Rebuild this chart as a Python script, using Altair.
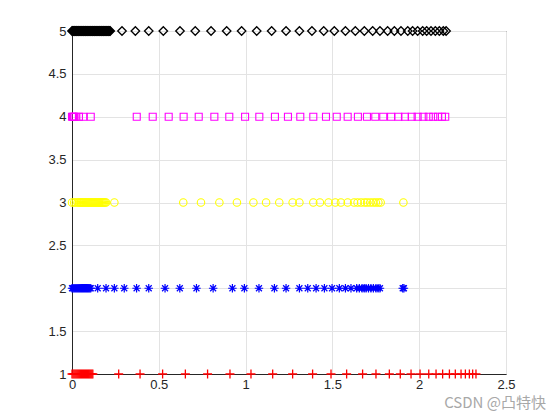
import altair as alt
import pandas as pd

# ---- data ----
red_x = [0.000, 0.006, 0.012, 0.018, 0.024, 0.030, 0.036, 0.042, 0.048, 0.054, 0.060,
         0.066, 0.072, 0.078, 0.084, 0.090, 0.096, 0.102, 0.108, 0.114, 0.120,
         0.269, 0.392, 0.522, 0.653, 0.781, 0.910, 1.031, 1.156, 1.271, 1.386,
         1.492, 1.582, 1.674, 1.751, 1.828, 1.891, 1.953, 2.005, 2.055, 2.097,
         2.135, 2.174, 2.208, 2.241, 2.266, 2.289, 2.308, 2.327]
blue_x = [0.000, 0.006, 0.012, 0.018, 0.024, 0.030, 0.036, 0.042, 0.048, 0.054, 0.060,
          0.066, 0.072, 0.078, 0.084, 0.090, 0.096, 0.102, 0.108,
          0.148, 0.196, 0.244, 0.301, 0.372, 0.442, 0.536, 0.621, 0.717, 0.813,
          0.924, 0.993, 1.077, 1.166, 1.233, 1.310, 1.358, 1.406, 1.454, 1.498,
          1.540, 1.575, 1.607, 1.640, 1.655, 1.671, 1.683, 1.694, 1.708, 1.722,
          1.736, 1.751, 1.763, 1.774, 1.905, 1.912]
yellow_x = [0.000, 0.012, 0.022, 0.032, 0.040, 0.046, 0.052, 0.058, 0.064, 0.070, 0.076,
            0.082, 0.088, 0.094, 0.100, 0.106, 0.112, 0.118, 0.124, 0.130, 0.136,
            0.142, 0.148, 0.154, 0.160, 0.166, 0.172, 0.178, 0.184, 0.190, 0.196,
            0.244,
            0.641, 0.743, 0.849, 0.950, 1.045, 1.118, 1.194, 1.271, 1.310, 1.390,
            1.428, 1.478, 1.517, 1.549, 1.588, 1.625, 1.645, 1.665, 1.685, 1.700,
            1.718, 1.735, 1.750, 1.765, 1.778, 1.909]
magenta_x = [0.000, 0.006, 0.012, 0.020, 0.040, 0.065, 0.108,
             0.373, 0.465, 0.557, 0.643, 0.730, 0.820, 0.906, 0.997, 1.079, 1.169,
             1.244, 1.315, 1.390, 1.463, 1.525, 1.588, 1.647, 1.699, 1.747, 1.793,
             1.838, 1.880, 1.918, 1.957, 1.991, 2.024, 2.055, 2.081, 2.108, 2.131, 2.150]
black_x = [0.000, 0.004, 0.008, 0.012, 0.016, 0.020, 0.024, 0.028, 0.032, 0.036, 0.040,
           0.044, 0.048, 0.052, 0.056, 0.060, 0.064, 0.068, 0.072, 0.076, 0.080,
           0.084, 0.088, 0.092, 0.096, 0.100, 0.104, 0.108, 0.112, 0.116, 0.120,
           0.124, 0.128, 0.132, 0.136, 0.140, 0.144, 0.148, 0.152, 0.156, 0.160,
           0.164, 0.168, 0.172, 0.176, 0.180, 0.184, 0.188, 0.192, 0.196, 0.200,
           0.204, 0.208, 0.212, 0.216, 0.220,
           0.288, 0.365, 0.442, 0.526, 0.622, 0.710, 0.801, 0.891, 0.977, 1.064,
           1.150, 1.233, 1.310, 1.382, 1.450, 1.511, 1.575, 1.632, 1.684, 1.732,
           1.774, 1.818, 1.857, 1.895, 1.934, 1.962, 1.991, 2.020, 2.043, 2.068,
           2.093, 2.116, 2.139, 2.155]

row_levels = [1, 2, 3, 4, 5]
x_ticks = [0, 0.5, 1, 1.5, 2, 2.5]
y_ticks = [1, 1.5, 2, 2.5, 3, 3.5, 4, 4.5, 5]
watermark = "CSDN @凸特快"

PLUS = "M-1,0L1,0M0,-1L0,1"
STAR = "M-1,0L1,0M0,-1L0,1M-0.7,-0.7L0.7,0.7M-0.7,0.7L0.7,-0.7"

xs = alt.X("x:Q", scale=alt.Scale(domain=[0, 2.5], nice=False),
           axis=alt.Axis(values=x_ticks, format="~g", title=None))
ys = alt.Y("y:Q", scale=alt.Scale(domain=[1, 5], nice=False),
           axis=alt.Axis(values=y_ticks, format="~g", title=None))

series = [
    (red_x, row_levels[0], "#FF0000", PLUS, 81, 1.3),
    (blue_x, row_levels[1], "#0000FF", STAR, 72, 1.2),
    (yellow_x, row_levels[2], "#FFFF00", "circle", 56, 1.1),
    (magenta_x, row_levels[3], "#FF00FF", "square", 49, 1.1),
    (black_x, row_levels[4], "#000000", "diamond", 72, 1.3),
]

layers = []
for xv, yl, col, shp, sz, sw in series:
    df = pd.DataFrame({"x": xv, "y": [yl] * len(xv)})
    layers.append(
        alt.Chart(df).mark_point(shape=shp, filled=False, color=col, size=sz,
                                 strokeWidth=sw, opacity=1, clip=False)
        .encode(x=xs, y=ys)
    )

wm = alt.Chart(pd.DataFrame({"t": [watermark]})).mark_text(
    align="right", baseline="middle", font="Noto Sans CJK SC", fontSize=15,
    color="#A8A8A8"
).encode(x=alt.value(474), y=alt.value(372), text="t:N")

chart = alt.layer(*layers, wm).properties(
    width=434, height=343,
    autosize=alt.AutoSizeParams(type="none"),
    padding={"left": 64, "top": 23, "right": 42, "bottom": 42},
).configure_view(
    stroke="#262626", strokeWidth=1
).configure_axis(
    grid=True, gridColor="#E3E3E3", gridWidth=1,
    domainColor="#262626", ticks=False, labelFont="Liberation Sans",
    labelFontSize=13, labelColor="#262626", labelFlush=False, labelOverlap=False,
).configure_axisY(labelPadding=6).configure_axisX(labelPadding=4)

chart.save("out.html", embed_options={"renderer": "svg", "actions": False})
